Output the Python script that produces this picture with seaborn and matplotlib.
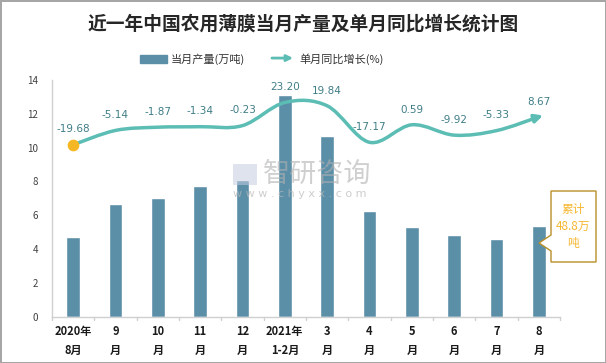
import numpy as np
import pandas as pd
import matplotlib
matplotlib.use("Agg")
import matplotlib.pyplot as plt
import seaborn as sns
from matplotlib.path import Path
from matplotlib.patches import PathPatch, Patch, Polygon, FancyArrowPatch
from matplotlib.lines import Line2D
from matplotlib.legend_handler import HandlerBase

# 数据
months = ["2020年\n8月", "9\n月", "10\n月", "11\n月", "12\n月", "2021年\n1-2月",
          "3\n月", "4\n月", "5\n月", "6\n月", "7\n月", "8\n月"]
output = [4.73, 6.67, 7.02, 7.73, 8.09, 13.1, 10.69, 6.25, 5.31, 4.84, 4.6, 5.37]
growth = [-19.68, -5.14, -1.87, -1.34, -0.23, 23.20, 19.84, -17.17, 0.59, -9.92, -5.33, 8.67]
growth_labels = ["-19.68", "-5.14", "-1.87", "-1.34", "-0.23", "23.20", "19.84",
                 "-17.17", "0.59", "-9.92", "-5.33", "8.67"]

BAR = "#5b8fa8"
LINE = "#5cbdb4"
LBL = "#3f7d86"
ORANGE = "#f5b731"

sns.set_theme(style="white")
plt.rcParams["font.family"] = ["Noto Sans CJK SC", "DejaVu Sans"]

df = pd.DataFrame({"month": months, "output": output})

fig = plt.figure(figsize=(6.06, 3.63), dpi=100, edgecolor="#a6a6a6", linewidth=2)
ax = fig.add_axes([52 / 606, 1 - 316.7 / 363, 508 / 606, 236.7 / 363])

sns.barplot(data=df, x="month", y="output", color=BAR, saturation=1, width=0.33, ax=ax)
ax.set_ylim(0, 14)
ax.set_xlim(-0.5, 11.5)
ax.set_yticks(range(0, 15, 2))
ax.tick_params(axis="y", labelsize=7, colors="#404040", length=0, pad=10)
ax.tick_params(axis="x", length=0, pad=6)
for t in ax.get_xticklabels():
    t.set_fontsize(8)
    t.set_fontweight("bold")
    t.set_color("#1a1a1a")
    t.set_linespacing(1.6)
ax.set_xlabel("")
ax.set_ylabel("")
for s in ["top", "right"]:
    ax.spines[s].set_visible(False)
for s in ["left", "bottom"]:
    ax.spines[s].set_color("#d0d0d0")
    ax.spines[s].set_linewidth(1)
# 分隔刻度
for k in range(13):
    ax.plot([k - 0.5, k - 0.5], [0, -0.18], color="#d0d0d0", lw=1, clip_on=False)

# 同比增长 (次坐标轴)
ax2 = ax.twinx()
ax2.set_ylim(-194, 46)
ax2.axis("off")

x = np.arange(len(growth), dtype=float)
y = np.array(growth)
pts = np.column_stack([x, y])
verts = [tuple(pts[0])]
codes = [Path.MOVETO]
n = len(pts)
for i in range(n - 1):
    p0 = pts[i - 1] if i > 0 else pts[i]
    p1 = pts[i]
    p2 = pts[i + 1]
    p3 = pts[i + 2] if i + 2 < n else pts[i + 1]
    c1 = p1 + (p2 - p0) / 6
    c2 = p2 - (p3 - p1) / 6
    verts += [tuple(c1), tuple(c2), tuple(p2)]
    codes += [Path.CURVE4] * 3
ax2.add_patch(PathPatch(Path(verts, codes), facecolor="none", edgecolor=LINE, lw=2.5,
                        capstyle="round", clip_on=False))
# 箭头
d = (pts[-1] - pts[-2]) / 6
ax2.annotate("", xy=(x[-1] + d[0] * 0.6, y[-1] + d[1] * 0.6), xytext=(x[-1] - d[0], y[-1] - d[1]),
             arrowprops=dict(arrowstyle="-|>", color=LINE, lw=2.5, mutation_scale=12,
                             shrinkA=0, shrinkB=0), annotation_clip=False)
ax2.scatter([x[0]], [y[0]], s=55, color="#f6b724", zorder=5, clip_on=False)

for xi, yi, lab in zip(x, y, growth_labels):
    ax2.annotate(lab, (xi, yi), xytext=(0, 11), textcoords="offset points",
                 ha="center", va="center", fontsize=7.5, color=LBL, family="DejaVu Sans")

# 水印
fig.text(263 / 606, 1 - 174 / 363, "智研咨询", fontsize=19.5, color="#b0b0b0", alpha=0.6,
         ha="left", va="center")
fig.text(233 / 606, 1 - 194 / 363, "w w w . c h y x x . c o m", fontsize=8, color="#b8b8b8",
         alpha=0.7, ha="left", va="center", family="DejaVu Sans")
fig.patches.append(plt.Rectangle((233 / 606, 1 - 185 / 363), 24 / 606, 21 / 363,
                                 transform=fig.transFigure, facecolor="#c3cde0", alpha=0.55,
                                 edgecolor="none"))

# 累计标注
box = Polygon([(551, 191), (596, 191), (596, 262), (551, 262), (551, 251), (539, 243),
               (551, 235)], closed=True, facecolor="white", edgecolor="#b8902a", lw=1)
box.set_transform(matplotlib.transforms.Affine2D().scale(1 / 606, -1 / 363).translate(0, 1)
                  + fig.transFigure)
fig.patches.append(box)
fig.text(573.5 / 606, 1 - 226.5 / 363, "累计\n48.8万\n吨", fontsize=8.5, color=ORANGE,
         ha="center", va="center", linespacing=1.4)

# 标题
fig.text(0.5, 1 - 24 / 363, "近一年中国农用薄膜当月产量及单月同比增长统计图", fontsize=13.5,
         fontweight="bold", color="#262626", ha="center", va="center")


# 图例
class ArrowHandler(HandlerBase):
    def create_artists(self, legend, orig, xd, yd, w, h, fontsize, trans):
        a = FancyArrowPatch((xd, yd + h / 2), (xd + w, yd + h / 2), arrowstyle="-|>",
                            mutation_scale=9, color=LINE, lw=2, transform=trans)
        return [a]


handles = [Patch(color=BAR), Line2D([], [], color=LINE)]
leg = fig.legend(handles, ["当月产量(万吨)", "单月同比增长(%)"], loc="center",
                 bbox_to_anchor=(262 / 606, 1 - 59 / 363), ncol=2, frameon=False,
                 fontsize=8, handlelength=2.4, handleheight=0.8, columnspacing=2.2,
                 handletextpad=0.3, handler_map={Line2D: ArrowHandler()})
for t in leg.get_texts():
    t.set_color("#333333")

fig.savefig("out.png", dpi=100, edgecolor=fig.get_edgecolor())
